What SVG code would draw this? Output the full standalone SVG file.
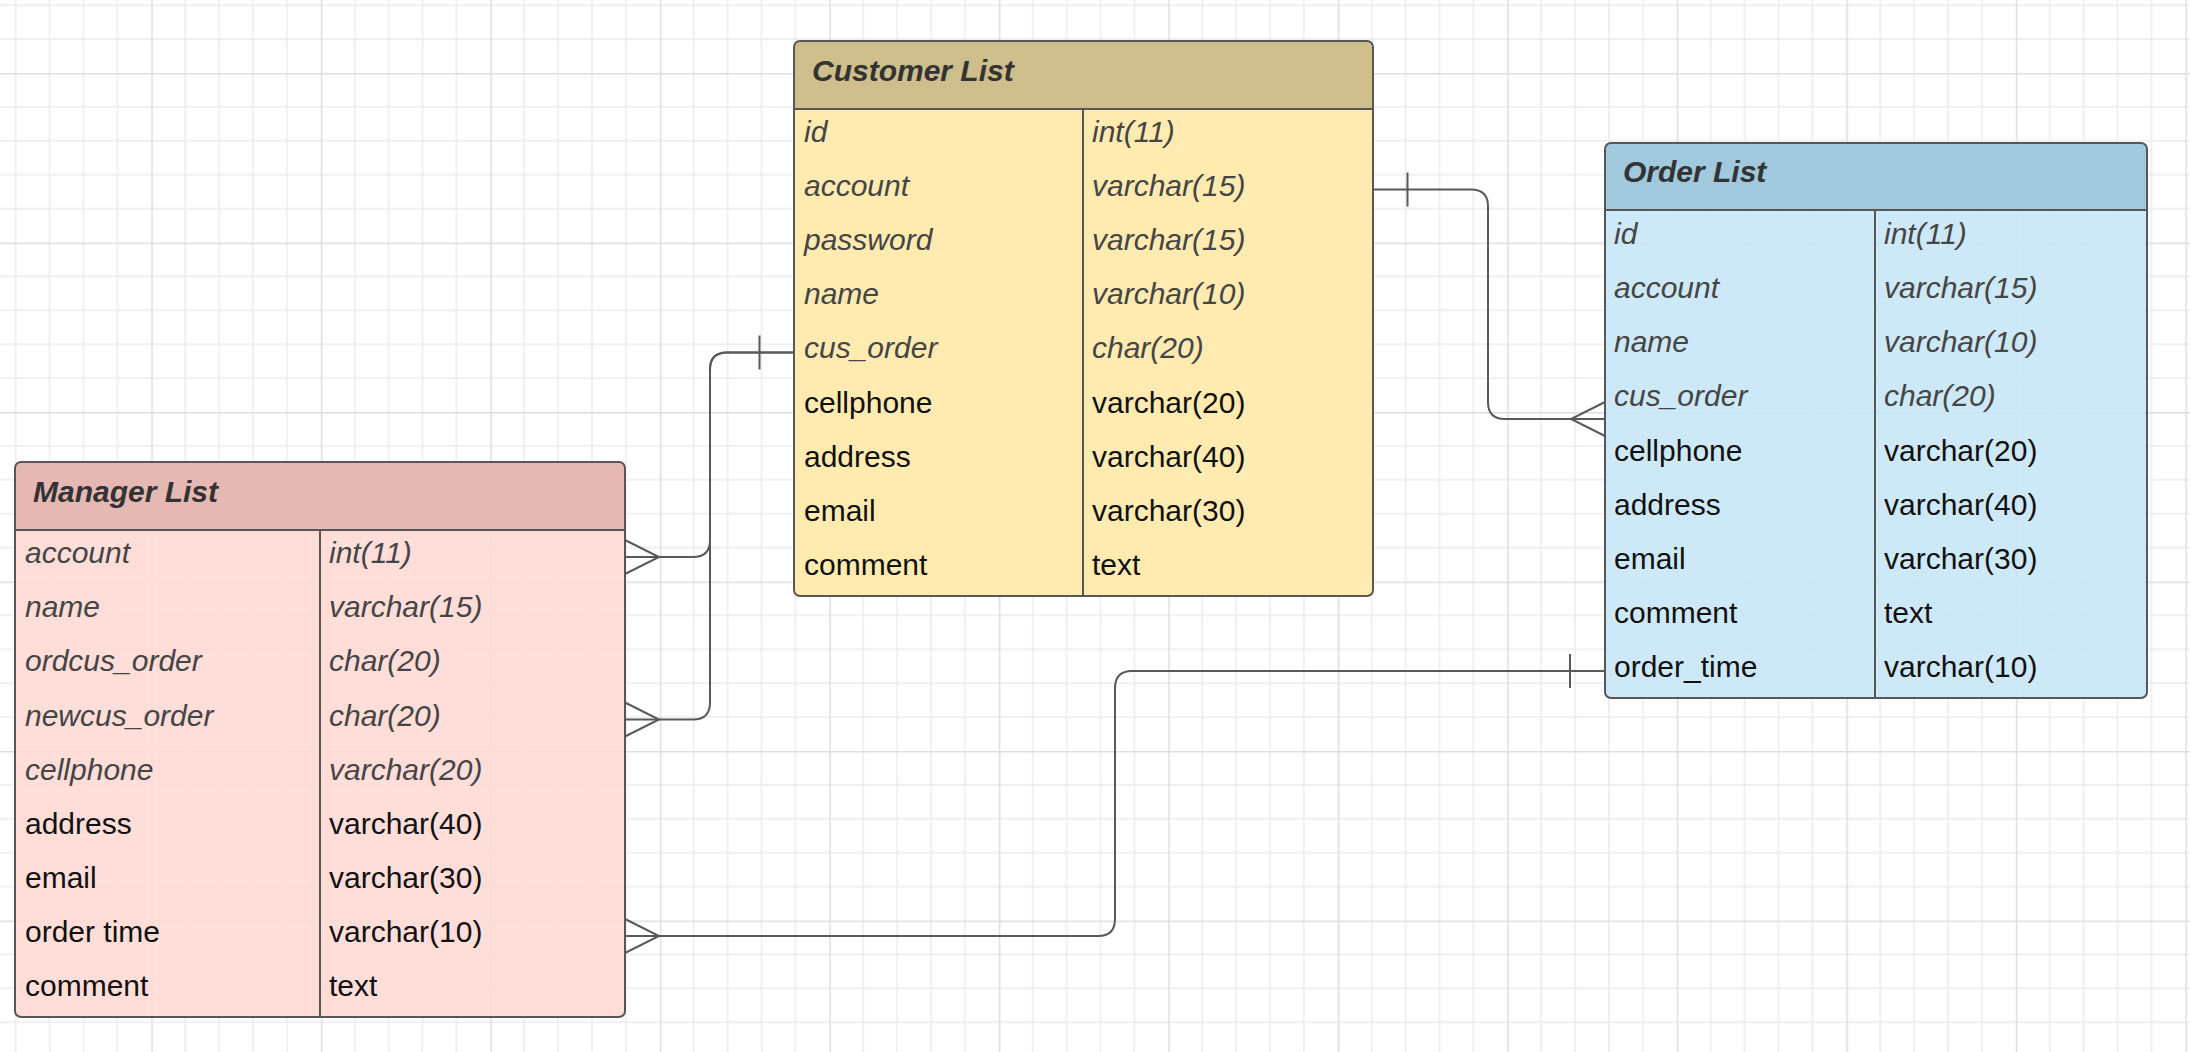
<svg xmlns="http://www.w3.org/2000/svg" width="2190" height="1052" viewBox="0 0 2190 1052">
<style>
.frame{fill:none;stroke:#575757;stroke-width:2}
.sep{stroke:#575757;stroke-width:2}
.hd{font-family:"Liberation Sans",Arial,sans-serif;font-size:30px;font-weight:bold;font-style:italic;fill:#333}
.it{font-family:"Liberation Sans",Arial,sans-serif;font-size:30px;font-style:italic;fill:#454545}
.nm{font-family:"Liberation Sans",Arial,sans-serif;font-size:30px;fill:#111}
.conn{fill:none;stroke:#595959;stroke-width:2}
</style>
<defs>
<pattern id="grid" patternUnits="userSpaceOnUse" x="151.3" y="73" width="169.5" height="169.5">
<path d="M33.9,0V169.5M67.8,0V169.5M101.7,0V169.5M135.6,0V169.5M0,33.9H169.5M0,67.8H169.5M0,101.7H169.5M0,135.6H169.5" stroke="#ececec" stroke-width="1.5" fill="none"/>
<path d="M0.75,0V169.5M0,0.75H169.5" stroke="#dedede" stroke-width="1.5" fill="none"/>
</pattern>
</defs>
<rect width="2190" height="1052" fill="#fff"/>
<rect width="2190" height="1052" fill="url(#grid)"/>

<g id="customer-list">
<rect x="794" y="41" width="579" height="555" rx="6" fill="#ffebb0"/>
<path d="M794,109V47Q794,41 800,41H1367Q1373,41 1373,47V109Z" fill="#cdbe8b"/>
<line class="sep" x1="794" y1="109" x2="1373" y2="109"/>
<line class="sep" x1="1083" y1="109" x2="1083" y2="596"/>
<rect class="frame" x="794" y="41" width="579" height="555" rx="6"/>
<text class="hd" x="812" y="81">Customer List</text>
<text class="it" x="804" y="142">id</text><text class="it" x="1092" y="142">int(11)</text>
<text class="it" x="804" y="196">account</text><text class="it" x="1092" y="196">varchar(15)</text>
<text class="it" x="804" y="250">password</text><text class="it" x="1092" y="250">varchar(15)</text>
<text class="it" x="804" y="304">name</text><text class="it" x="1092" y="304">varchar(10)</text>
<text class="it" x="804" y="358" fill="#555">cus_order</text><text class="it" x="1092" y="358" fill="#555">char(20)</text>
<text class="nm" x="804" y="413">cellphone</text><text class="nm" x="1092" y="413">varchar(20)</text>
<text class="nm" x="804" y="467">address</text><text class="nm" x="1092" y="467">varchar(40)</text>
<text class="nm" x="804" y="521">email</text><text class="nm" x="1092" y="521">varchar(30)</text>
<text class="nm" x="804" y="575">comment</text><text class="nm" x="1092" y="575">text</text>
</g>

<g id="order-list">
<rect x="1605" y="143" width="542" height="555" rx="6" fill="#c6e6f6" fill-opacity="0.88"/>
<path d="M1605,210V149Q1605,143 1611,143H2141Q2147,143 2147,149V210Z" fill="#9bc5da" fill-opacity="0.9"/>
<line class="sep" x1="1605" y1="210" x2="2147" y2="210"/>
<line class="sep" x1="1875" y1="210" x2="1875" y2="698"/>
<rect class="frame" x="1605" y="143" width="542" height="555" rx="6"/>
<text class="hd" x="1623" y="182">Order List</text>
<text class="it" x="1614" y="244">id</text><text class="it" x="1884" y="244">int(11)</text>
<text class="it" x="1614" y="298">account</text><text class="it" x="1884" y="298">varchar(15)</text>
<text class="it" x="1614" y="352">name</text><text class="it" x="1884" y="352">varchar(10)</text>
<text class="it" x="1614" y="406">cus_order</text><text class="it" x="1884" y="406">char(20)</text>
<text class="nm" x="1614" y="461">cellphone</text><text class="nm" x="1884" y="461">varchar(20)</text>
<text class="nm" x="1614" y="515">address</text><text class="nm" x="1884" y="515">varchar(40)</text>
<text class="nm" x="1614" y="569">email</text><text class="nm" x="1884" y="569">varchar(30)</text>
<text class="nm" x="1614" y="623">comment</text><text class="nm" x="1884" y="623">text</text>
<text class="nm" x="1614" y="677">order_time</text><text class="nm" x="1884" y="677">varchar(10)</text>
</g>

<g id="manager-list">
<rect x="15" y="462" width="610" height="555" rx="6" fill="#ffd9d4" fill-opacity="0.9"/>
<path d="M15,530V468Q15,462 21,462H619Q625,462 625,468V530Z" fill="#e4b4b0" fill-opacity="0.92"/>
<line class="sep" x1="15" y1="530" x2="625" y2="530"/>
<line class="sep" x1="320" y1="530" x2="320" y2="1017"/>
<rect class="frame" x="15" y="462" width="610" height="555" rx="6"/>
<text class="hd" x="33" y="502">Manager List</text>
<text class="it" x="25" y="563">account</text><text class="it" x="329" y="563">int(11)</text>
<text class="it" x="25" y="617">name</text><text class="it" x="329" y="617">varchar(15)</text>
<text class="it" x="25" y="671">ordcus_order</text><text class="it" x="329" y="671">char(20)</text>
<text class="it" x="25" y="726">newcus_order</text><text class="it" x="329" y="726">char(20)</text>
<text class="it" x="25" y="780">cellphone</text><text class="it" x="329" y="780">varchar(20)</text>
<text class="nm" x="25" y="834">address</text><text class="nm" x="329" y="834">varchar(40)</text>
<text class="nm" x="25" y="888">email</text><text class="nm" x="329" y="888">varchar(30)</text>
<text class="nm" x="25" y="942">order time</text><text class="nm" x="329" y="942">varchar(10)</text>
<text class="nm" x="25" y="996">comment</text><text class="nm" x="329" y="996">text</text>
</g>

<g id="connectors">
<path class="conn" d="M794,352.5H727Q710,352.5 710,369.5V540Q710,557 693,557H625"/>
<path class="conn" d="M794,352.5H727Q710,352.5 710,369.5V702.5Q710,719.5 693,719.5H625"/>
<path class="conn" d="M759.5,335.5V369.5"/>
<path class="conn" d="M625,540L659,557L625,574"/>
<path class="conn" d="M625,702.5L659,719.5L625,736.5"/>
<path class="conn" d="M1373,189.5H1471Q1488,189.5 1488,206.5V402Q1488,419 1505,419H1605"/>
<path class="conn" d="M1407.5,172.5V206.5"/>
<path class="conn" d="M1605,402L1571,419L1605,436"/>
<path class="conn" d="M1605,671H1132Q1115,671 1115,688V919Q1115,936 1098,936H625"/>
<path class="conn" d="M1570,654V688"/>
<path class="conn" d="M625,919L659,936L625,953"/>
</g>
</svg>
